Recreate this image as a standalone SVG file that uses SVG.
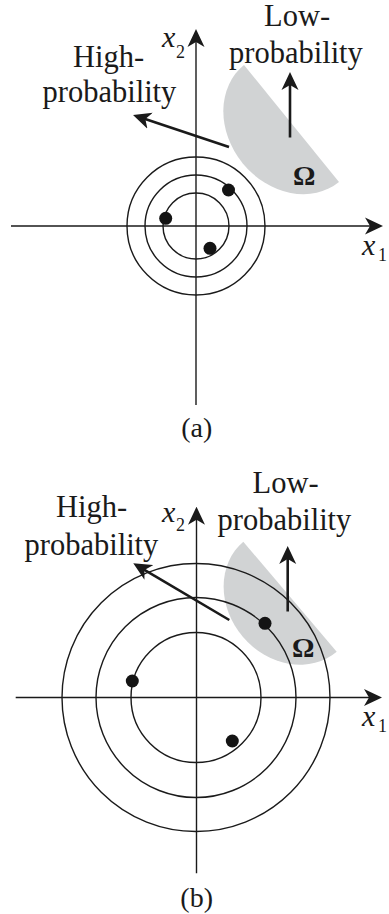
<svg xmlns="http://www.w3.org/2000/svg" width="389" height="914" viewBox="0 0 389 914">
<style>
.ax{stroke:#1a1a1a;stroke-width:1.4;fill:none}
.ring{stroke:#1a1a1a;stroke-width:1.4;fill:none}
.arr{stroke:#1a1a1a;stroke-width:2.6;fill:none}
.dot{fill:#141414}
.omega-region{fill:#d1d3d4}
.lbl{font-family:"Liberation Serif","Times New Roman",serif;font-size:30.5px;fill:#1a1a1a}
.cap{font-family:"Liberation Serif","Times New Roman",serif;font-size:28px;fill:#1a1a1a}
.var{font-family:"Liberation Serif","Times New Roman",serif;font-size:30px;font-style:italic;fill:#1a1a1a}
.sub{font-family:"Liberation Serif","Times New Roman",serif;font-size:18px;fill:#1a1a1a}
.om{font-family:"Liberation Serif","Times New Roman",serif;font-size:28px;font-weight:bold;fill:#1a1a1a}
</style>
<defs>
<marker id="ah" viewBox="0 0 18 18" markerWidth="18" markerHeight="18" markerUnits="userSpaceOnUse" refX="6" refY="9" orient="auto">
<path d="M0,0.5 L18,9 L0,17.5 L5,9 Z" fill="#1a1a1a"/>
</marker>
</defs>

<!-- Panel (a) -->
<g id="a-region">
<path class="omega-region" d="M244,65 A75.4,63 50.9 0 0 242.6,163.2 A75.4,63 50.9 0 0 339,182 Z"/>
<text class="om" x="293" y="185">Ω</text>
</g>
<g id="a-axes">
<line class="ax" x1="11" y1="226" x2="371" y2="226" marker-end="url(#ah)"/>
<line class="ax" x1="196" y1="405" x2="196" y2="41" marker-end="url(#ah)"/>
<text class="var" x="362" y="255">x</text><text class="sub" x="378" y="261">1</text>
<text class="var" x="162" y="47">x</text><text class="sub" x="176" y="58">2</text>
</g>
<g id="a-rings">
<circle class="ring" cx="196" cy="226" r="33"/>
<circle class="ring" cx="196" cy="226" r="51"/>
<circle class="ring" cx="196" cy="226" r="69"/>
</g>
<g id="a-dots">
<circle class="dot" cx="228.5" cy="190" r="6.5"/>
<circle class="dot" cx="165.7" cy="218.3" r="6.5"/>
<circle class="dot" cx="210" cy="248.3" r="6.5"/>
</g>
<g id="a-high">
<text class="lbl" x="73" y="67">High-</text>
<text class="lbl" x="42.5" y="102">probability</text>
</g>
<g id="a-low">
<text class="lbl" x="264" y="26">Low-</text>
<text class="lbl" x="229" y="63">probability</text>
</g>
<g id="a-connectors">
<line class="arr" x1="229" y1="147" x2="144.4" y2="118.8" marker-end="url(#ah)"/>
<line class="arr" x1="290" y1="137.5" x2="290" y2="84" marker-end="url(#ah)"/>
</g>
<text class="cap" x="196.7" y="437" text-anchor="middle">(a)</text>

<!-- Panel (b) -->
<g id="b-region">
<path class="omega-region" d="M243.3,541.7 A72.2,62 49.7 0 0 242.8,636.8 A72.2,62 49.7 0 0 336.7,651.7 Z"/>
<text class="om" x="292" y="657">Ω</text>
</g>
<g id="b-axes">
<line class="ax" x1="15.7" y1="697.5" x2="370" y2="697.5" marker-end="url(#ah)"/>
<line class="ax" x1="196.5" y1="873.3" x2="196.5" y2="518.7" marker-end="url(#ah)"/>
<text class="var" x="362" y="726">x</text><text class="sub" x="378" y="732">1</text>
<text class="var" x="162" y="522">x</text><text class="sub" x="176" y="531">2</text>
</g>
<g id="b-rings">
<circle class="ring" cx="196" cy="697.5" r="65"/>
<circle class="ring" cx="196" cy="697.5" r="100"/>
<circle class="ring" cx="196" cy="697.5" r="134"/>
</g>
<g id="b-dots">
<circle class="dot" cx="265" cy="623.3" r="6.5"/>
<circle class="dot" cx="132.3" cy="681" r="6.5"/>
<circle class="dot" cx="232.3" cy="741" r="6.5"/>
</g>
<g id="b-high">
<text class="lbl" x="56" y="517">High-</text>
<text class="lbl" x="24.5" y="555">probability</text>
</g>
<g id="b-low">
<text class="lbl" x="252.5" y="493">Low-</text>
<text class="lbl" x="217.5" y="530">probability</text>
</g>
<g id="b-connectors">
<line class="arr" x1="229.3" y1="620" x2="143.6" y2="569.4" marker-end="url(#ah)"/>
<line class="arr" x1="287.7" y1="611.5" x2="287.7" y2="558" marker-end="url(#ah)"/>
</g>
<text class="cap" x="196.7" y="907" text-anchor="middle">(b)</text>
</svg>
